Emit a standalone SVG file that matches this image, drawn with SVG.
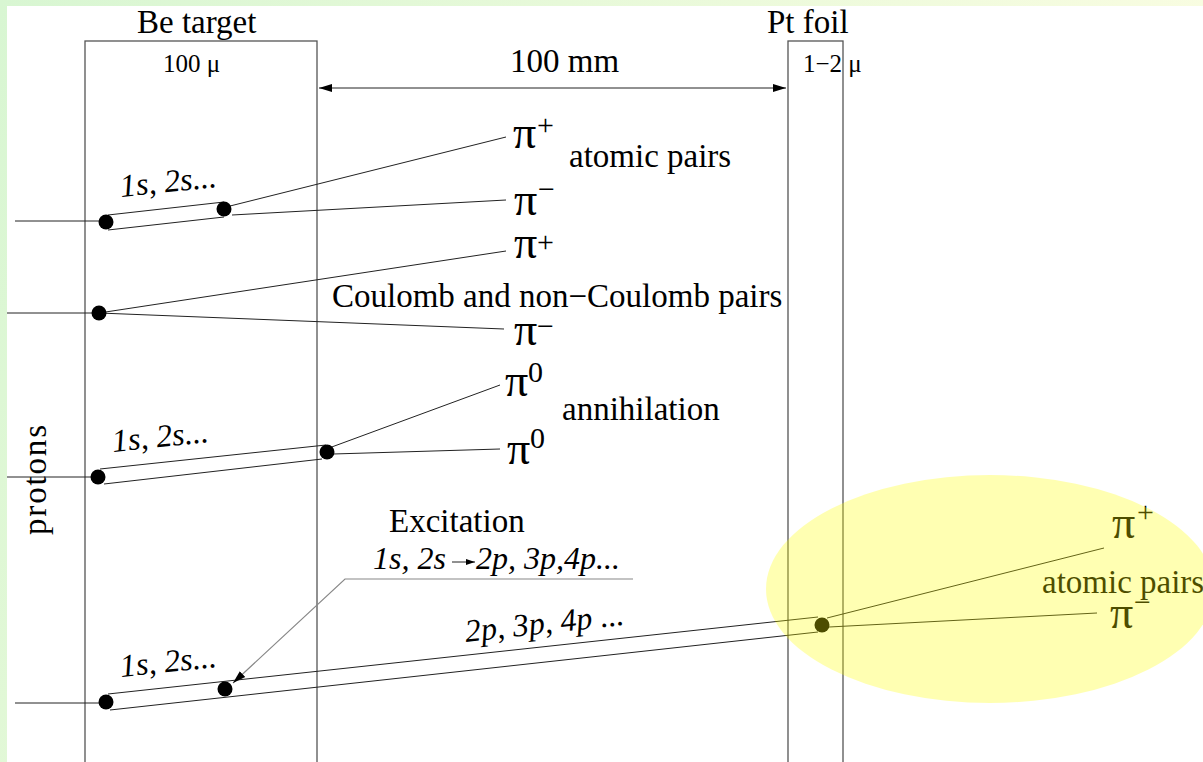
<svg xmlns="http://www.w3.org/2000/svg" width="1203" height="762" viewBox="0 0 1203 762">
<defs>
<linearGradient id="bg" x1="0" y1="0" x2="1" y2="0.3">
<stop offset="0" stop-color="#d8f6d2"/>
<stop offset="1" stop-color="#fbfde2"/>
</linearGradient>
<marker id="ah" markerWidth="14" markerHeight="10" refX="13" refY="5" orient="auto-start-reverse" markerUnits="userSpaceOnUse">
<path d="M0,1 L13,5 L0,9 Z" fill="#000"/>
</marker>
<marker id="ahs" markerWidth="10" markerHeight="8" refX="9" refY="4" orient="auto" markerUnits="userSpaceOnUse">
<path d="M0,1 L9,4 L0,7 Z" fill="#000"/>
</marker>
<style>
text{font-family:"Liberation Serif","Times New Roman",serif;fill:#000}
.lb{font-size:33px}
.it{font-style:italic;font-size:32px}
.pi{font-size:46px}
.sup{font-size:30px}
.sm{font-size:25px}
.box{fill:none;stroke:#555;stroke-width:1.3}
.ln{fill:none;stroke:#222;stroke-width:1}
.gl{fill:none;stroke:#888;stroke-width:1.2}
.dot{fill:#000}
</style>
</defs>
<rect x="0" y="0" width="1203" height="762" fill="url(#bg)"/>
<rect x="7" y="6" width="1196" height="756" fill="#fff"/>

<g id="be-target">
<rect class="box" x="85" y="41" width="232" height="730"/>
<text class="lb" x="137" y="33">Be target</text>
<text class="sm" x="163" y="72">100 μ</text>
</g>
<g id="pt-foil">
<rect class="box" x="788" y="41" width="55" height="730"/>
<text class="lb" x="767" y="33">Pt foil</text>
<text class="sm" x="803" y="72">1−2 μ</text>
</g>
<g id="distance">
<line class="ln" x1="319" y1="88" x2="786" y2="88" marker-start="url(#ah)" marker-end="url(#ah)"/>
<text class="lb" x="510" y="72" font-size="32">100 mm</text>
</g>
<g id="protons-label">
<text class="lb" transform="translate(46,535) rotate(-90)" textLength="110">protons</text>
</g>

<g id="connectors">
<line class="ln" x1="15" y1="221" x2="106" y2="221"/>
<line class="ln" x1="108" y1="215" x2="224" y2="202"/>
<line class="ln" x1="108" y1="230" x2="224" y2="217"/>
<line class="ln" x1="230" y1="206" x2="506" y2="137"/>
<line class="ln" x1="232" y1="215" x2="506" y2="200"/>
<line class="ln" x1="7" y1="313" x2="99" y2="313"/>
<line class="ln" x1="99" y1="313" x2="506" y2="251"/>
<line class="ln" x1="99" y1="313" x2="504" y2="329"/>
<line class="ln" x1="7" y1="477" x2="98" y2="477"/>
<line class="ln" x1="100" y1="469" x2="326" y2="445"/>
<line class="ln" x1="104" y1="484" x2="322" y2="459"/>
<line class="ln" x1="329" y1="448" x2="500" y2="385"/>
<line class="ln" x1="333" y1="454" x2="500" y2="449"/>
<line class="ln" x1="15" y1="703" x2="106" y2="703"/>
<line class="ln" x1="108" y1="694" x2="818" y2="617"/>
<line class="ln" x1="110" y1="710" x2="818" y2="632"/>
<line class="ln" x1="827" y1="618" x2="1104" y2="548"/>
<line class="ln" x1="829" y1="627" x2="1097" y2="613"/>
<polyline class="gl" points="633,579 345,579 233,683" marker-end="url(#ah)"/>
<line class="ln" x1="452" y1="562" x2="475" y2="562" marker-end="url(#ahs)"/>
</g>

<g id="row1">
<circle class="dot" cx="106" cy="222" r="7.5"/>
<circle class="dot" cx="224" cy="209" r="7.5"/>
<text class="it" transform="translate(121,197) rotate(-6)">1s, 2s...</text>
<text class="pi" x="513" y="148">π</text><text class="sup" x="537" y="135">+</text>
<text class="lb" x="569" y="167">atomic pairs</text>
<text class="pi" x="514" y="215">π</text><text class="sup" x="538" y="199">−</text>
</g>
<g id="row2">
<circle class="dot" cx="99" cy="313" r="7.5"/>
<text class="pi" x="514" y="258">π</text><text class="sup" x="537" y="252">+</text>
<text class="lb" x="332" y="307">Coulomb and non−Coulomb pairs</text>
<text class="pi" x="514" y="345">π</text><text class="sup" x="537" y="336">−</text>
</g>
<g id="row3">
<circle class="dot" cx="98" cy="477" r="7.5"/>
<circle class="dot" cx="327" cy="452" r="7.5"/>
<text class="it" transform="translate(113,452) rotate(-6)">1s, 2s...</text>
<text class="pi" x="505" y="396">π</text><text class="sup" x="528" y="382">0</text>
<text class="lb" x="562" y="420">annihilation</text>
<text class="pi" x="507" y="464">π</text><text class="sup" x="530" y="448">0</text>
</g>
<g id="row4">
<circle class="dot" cx="106" cy="702" r="7.5"/>
<circle class="dot" cx="225" cy="689" r="7.5"/>
<circle class="dot" cx="822" cy="625" r="7.5"/>
<text class="it" transform="translate(121,677) rotate(-6)">1s, 2s...</text>
<text class="lb" x="389" y="532">Excitation</text>
<text class="it" x="373" y="569" font-size="34">1s, 2s</text>
<text class="it" x="476" y="569" font-size="34">2p, 3p,4p...</text>
<text class="it" transform="translate(466,642) rotate(-6.2)" font-size="33">2p, 3p, 4p ...</text>
<text class="pi" x="1112" y="538">π</text><text class="sup" x="1137" y="522">+</text>
<text class="lb" x="1042" y="593">atomic pairs</text>
<text class="pi" x="1110" y="628">π</text><text class="sup" x="1134" y="612">−</text>
</g>
<g id="highlight">
<ellipse cx="990" cy="589" rx="224" ry="114" fill="#ffff00" fill-opacity="0.3"/>
</g>
</svg>
